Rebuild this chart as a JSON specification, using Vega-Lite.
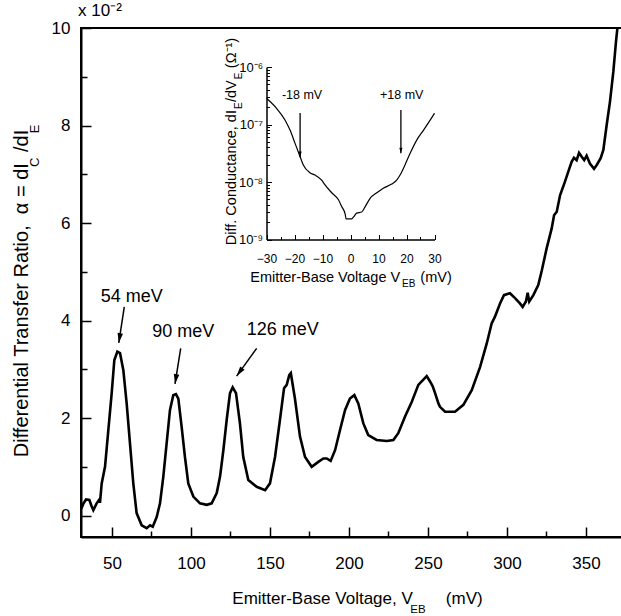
{
  "$schema": "https://vega.github.io/schema/vega-lite/v6.json",
  "width": 541,
  "height": 509,
  "autosize": {"type": "none"},
  "padding": {"left": 81, "top": 28, "right": 0, "bottom": 79},
  "background": "white",
  "title": {"text": "x 10⁻²", "anchor": "start", "frame": "group", "fontSize": 17, "font": "Liberation Sans", "fontWeight": "normal", "offset": -2, "dx": -3, "color": "black"},
  "config": {
    "view": {"stroke": "black", "strokeWidth": 2},
    "font": "Liberation Sans",
    "axis": {"domainColor": "black", "tickColor": "black", "labelColor": "black", "titleColor": "black", "labelFont": "Liberation Sans", "titleFont": "Liberation Sans", "titleFontWeight": "normal", "grid": false, "labelFlush": false, "labelOverlap": false},
    "text": {"font": "Liberation Sans", "color": "black"}
  },
  "datasets": {
    "main": [
      {"v": 30.6, "a": 0.14}, {"v": 32.0, "a": 0.25}, {"v": 33.6, "a": 0.33}, {"v": 35.7, "a": 0.32}, {"v": 37.0, "a": 0.2}, {"v": 38.2, "a": 0.11},
      {"v": 40.3, "a": 0.25}, {"v": 42.0, "a": 0.33}, {"v": 42.4, "a": 0.26}, {"v": 43.5, "a": 0.66}, {"v": 45.6, "a": 1.0}, {"v": 47.7, "a": 1.75},
      {"v": 49.8, "a": 2.5}, {"v": 51.5, "a": 3.19}, {"v": 53.4, "a": 3.36}, {"v": 55.1, "a": 3.33}, {"v": 57.2, "a": 2.98}, {"v": 59.3, "a": 2.3},
      {"v": 61.4, "a": 1.48}, {"v": 63.5, "a": 0.66}, {"v": 65.6, "a": 0.05}, {"v": 68.8, "a": -0.2}, {"v": 72.0, "a": -0.26}, {"v": 74.1, "a": -0.2},
      {"v": 75.8, "a": -0.23}, {"v": 78.3, "a": -0.03}, {"v": 80.4, "a": 0.25}, {"v": 82.5, "a": 0.8}, {"v": 84.6, "a": 1.48}, {"v": 86.7, "a": 2.16},
      {"v": 88.8, "a": 2.47}, {"v": 90.5, "a": 2.49}, {"v": 92.0, "a": 2.4}, {"v": 94.1, "a": 1.82}, {"v": 96.2, "a": 1.2}, {"v": 98.3, "a": 0.66},
      {"v": 101.5, "a": 0.39}, {"v": 105.7, "a": 0.25}, {"v": 110.0, "a": 0.22}, {"v": 113.1, "a": 0.25}, {"v": 116.3, "a": 0.46}, {"v": 118.4, "a": 0.8},
      {"v": 120.5, "a": 1.34}, {"v": 122.6, "a": 1.96}, {"v": 124.7, "a": 2.51}, {"v": 126.4, "a": 2.63}, {"v": 128.5, "a": 2.51}, {"v": 131.0, "a": 1.89},
      {"v": 133.1, "a": 1.2}, {"v": 136.3, "a": 0.73}, {"v": 141.6, "a": 0.59}, {"v": 146.9, "a": 0.52}, {"v": 150.0, "a": 0.66}, {"v": 153.2, "a": 1.2},
      {"v": 156.3, "a": 1.96}, {"v": 158.9, "a": 2.61}, {"v": 160.6, "a": 2.68}, {"v": 162.2, "a": 2.88}, {"v": 163.2, "a": 2.92}, {"v": 165.8, "a": 2.4},
      {"v": 169.0, "a": 1.62}, {"v": 172.2, "a": 1.2}, {"v": 176.4, "a": 1.0}, {"v": 180.6, "a": 1.1}, {"v": 183.8, "a": 1.17}, {"v": 185.9, "a": 1.17},
      {"v": 188.4, "a": 1.12}, {"v": 191.2, "a": 1.34}, {"v": 194.3, "a": 1.75}, {"v": 197.5, "a": 2.16}, {"v": 200.6, "a": 2.4}, {"v": 203.4, "a": 2.47},
      {"v": 205.9, "a": 2.3}, {"v": 209.1, "a": 1.89}, {"v": 212.2, "a": 1.65}, {"v": 217.5, "a": 1.55}, {"v": 223.9, "a": 1.53}, {"v": 228.1, "a": 1.55},
      {"v": 231.2, "a": 1.69}, {"v": 235.5, "a": 2.03}, {"v": 239.7, "a": 2.33}, {"v": 243.9, "a": 2.68}, {"v": 249.2, "a": 2.86}, {"v": 251.3, "a": 2.75},
      {"v": 253.0, "a": 2.65}, {"v": 254.5, "a": 2.51}, {"v": 256.6, "a": 2.3}, {"v": 257.6, "a": 2.23}, {"v": 260.8, "a": 2.13}, {"v": 267.1, "a": 2.13},
      {"v": 272.4, "a": 2.27}, {"v": 277.7, "a": 2.57}, {"v": 283.0, "a": 3.05}, {"v": 287.2, "a": 3.53}, {"v": 290.3, "a": 3.94}, {"v": 292.4, "a": 4.08},
      {"v": 295.6, "a": 4.35}, {"v": 298.1, "a": 4.52}, {"v": 301.9, "a": 4.56}, {"v": 305.1, "a": 4.46}, {"v": 308.2, "a": 4.35}, {"v": 309.9, "a": 4.28},
      {"v": 312.0, "a": 4.39}, {"v": 313.1, "a": 4.57}, {"v": 314.1, "a": 4.39}, {"v": 316.7, "a": 4.52}, {"v": 319.8, "a": 4.73}, {"v": 322.0, "a": 5.02},
      {"v": 325.1, "a": 5.48}, {"v": 328.3, "a": 5.89}, {"v": 329.8, "a": 6.16}, {"v": 331.5, "a": 6.23}, {"v": 333.6, "a": 6.57}, {"v": 336.7, "a": 6.85},
      {"v": 339.5, "a": 7.12}, {"v": 341.0, "a": 7.26}, {"v": 342.4, "a": 7.34}, {"v": 344.1, "a": 7.29}, {"v": 345.6, "a": 7.44}, {"v": 347.3, "a": 7.36},
      {"v": 348.9, "a": 7.29}, {"v": 350.4, "a": 7.38}, {"v": 352.5, "a": 7.22}, {"v": 355.1, "a": 7.11}, {"v": 356.8, "a": 7.19}, {"v": 359.3, "a": 7.33},
      {"v": 361.0, "a": 7.5}, {"v": 363.1, "a": 8.01}, {"v": 365.2, "a": 8.49}, {"v": 367.3, "a": 9.1}, {"v": 369.0, "a": 9.72}, {"v": 369.9, "a": 10.0},
      {"v": 370.3, "a": 10.2}
    ],
    "arrows": [
      {"id": "a54", "x": 57.8, "y": 4.28, "x2": 54.3, "y2": 3.54},
      {"id": "a90", "x": 93.5, "y": 3.43, "x2": 89.9, "y2": 2.7},
      {"id": "a126", "x": 141.6, "y": 3.43, "x2": 128.9, "y2": 2.86}
    ],
    "labels": [
      {"x": 62.5, "y": 4.49, "t": "54 meV"},
      {"x": 95.1, "y": 3.77, "t": "90 meV"},
      {"x": 158.1, "y": 3.8, "t": "126 meV"}
    ],
    "xsub": [{"x": 243.7, "y": -1.94, "t": "EB"}],
    "ysub": [{"x": 1.6, "y": 7.243, "t": "C"}, {"x": 1.6, "y": 7.928, "t": "E"}],
    "inset": [
      {"v": -30.0, "g": 2.86e-7}, {"v": -26.4, "g": 1.91e-7}, {"v": -23.4, "g": 1.2e-7}, {"v": -21.6, "g": 8.0e-8}, {"v": -19.8, "g": 4.7e-8},
      {"v": -18.0, "g": 2.75e-8}, {"v": -16.9, "g": 2.0e-8}, {"v": -14.5, "g": 1.45e-8}, {"v": -12.7, "g": 1.32e-8}, {"v": -10.3, "g": 1.08e-8},
      {"v": -9.1, "g": 8.9e-9}, {"v": -6.7, "g": 6.5e-9}, {"v": -4.3, "g": 4.9e-9}, {"v": -3.1, "g": 3.7e-9}, {"v": -1.9, "g": 2.77e-9},
      {"v": -1.6, "g": 2.28e-9}, {"v": 0.4, "g": 2.28e-9}, {"v": 1.2, "g": 2.5e-9}, {"v": 2.2, "g": 2.88e-9}, {"v": 4.0, "g": 3.0e-9},
      {"v": 5.2, "g": 3.7e-9}, {"v": 7.0, "g": 5.2e-9}, {"v": 9.4, "g": 6.5e-9}, {"v": 11.7, "g": 7.8e-9}, {"v": 14.7, "g": 9.2e-9},
      {"v": 16.5, "g": 1.08e-8}, {"v": 17.7, "g": 1.32e-8}, {"v": 19.5, "g": 2.0e-8}, {"v": 21.3, "g": 3.15e-8}, {"v": 23.7, "g": 5.4e-8},
      {"v": 26.1, "g": 8.0e-8}, {"v": 28.5, "g": 1.2e-7}, {"v": 30.0, "g": 1.57e-7}
    ],
    "insetArrows": [
      {"x": -18, "y": 1.58e-7, "y2": 2.7e-8},
      {"x": 18, "y": 1.79e-7, "y2": 3.15e-8}
    ],
    "insetLabels": [
      {"x": -17.3, "y": 3.26e-7, "t": "-18 mV"},
      {"x": 18.3, "y": 3.26e-7, "t": "+18 mV"}
    ],
    "insetXsub": [{"x": 20.8, "y": 1.68e-10, "t": "EB"}],
    "insetYsub": [{"x": -39.8, "y": 2.13e-7, "t": "E"}, {"x": -39.8, "y": 7.03e-7, "t": "E"}]
  },
  "layer": [
    {
      "layer": [
        {
          "data": {"name": "main"},
          "mark": {"type": "line", "color": "black", "strokeWidth": 2.6, "clip": true},
          "encoding": {
            "x": {"field": "v", "type": "quantitative", "scale": {"domain": [30.4, 372.8], "nice": false, "zero": false},
              "axis": {"orient": "bottom", "values": [50, 100, 150, 200, 250, 300, 350], "tickSize": -10, "tickWidth": 1.5, "domainWidth": 2, "labelFontSize": 17, "labelPadding": 28, "title": "Emitter-Base Voltage, V\u00a0\u00a0\u00a0\u00a0\u00a0\u00a0\u00a0(mV)", "titleFontSize": 17, "titleX": 276, "titleY": 61, "titleBaseline": "middle"}},
            "y": {"field": "a", "type": "quantitative", "scale": {"domain": [-0.44, 10], "nice": false, "zero": false},
              "axis": {"orient": "left", "values": [0, 2, 4, 6, 8, 10], "tickSize": -10, "tickWidth": 1.5, "domainWidth": 2, "labelFontSize": 17, "labelPadding": 21, "title": "Differential Transfer Ratio,\u00a0\u00a0α = dI\u00a0\u00a0/dI\u00a0\u00a0", "titleFontSize": 20, "titleX": -60, "titleY": 265, "titleBaseline": "middle", "titleAngle": 270}}
          }
        },
        {
          "data": {"name": "arrows"},
          "mark": {"type": "rule", "color": "black", "strokeWidth": 1.5},
          "encoding": {
            "x": {"field": "x", "type": "quantitative"}, "y": {"field": "y", "type": "quantitative"},
            "x2": {"field": "x2"}, "y2": {"field": "y2"}
          }
        },
        {
          "data": {"name": "arrows"},
          "transform": [{"filter": "datum.id !== 'a126'"}],
          "mark": {"type": "point", "shape": "M0,0L-0.45,1.6L0.45,1.6Z", "size": 150, "filled": true, "color": "black", "opacity": 1, "angle": 189},
          "encoding": {"x": {"field": "x2", "type": "quantitative"}, "y": {"field": "y2", "type": "quantitative"}}
        },
        {
          "data": {"name": "arrows"},
          "transform": [{"filter": "datum.id === 'a126'"}],
          "mark": {"type": "point", "shape": "M0,0L-0.45,1.6L0.45,1.6Z", "size": 150, "filled": true, "color": "black", "opacity": 1, "angle": 216},
          "encoding": {"x": {"field": "x2", "type": "quantitative"}, "y": {"field": "y2", "type": "quantitative"}}
        },
        {
          "data": {"name": "labels"},
          "mark": {"type": "text", "fontSize": 18, "baseline": "middle", "align": "center"},
          "encoding": {"x": {"field": "x", "type": "quantitative"}, "y": {"field": "y", "type": "quantitative"}, "text": {"field": "t"}}
        },
        {
          "data": {"name": "xsub"},
          "mark": {"type": "text", "fontSize": 11.5, "baseline": "middle", "align": "center"},
          "encoding": {"x": {"field": "x", "type": "quantitative"}, "y": {"field": "y", "type": "quantitative"}, "text": {"field": "t"}}
        },
        {
          "data": {"name": "ysub"},
          "mark": {"type": "text", "fontSize": 13, "baseline": "middle", "align": "center", "angle": 270},
          "encoding": {"x": {"field": "x", "type": "quantitative"}, "y": {"field": "y", "type": "quantitative"}, "text": {"field": "t"}}
        }
      ]
    },
    {
      "data": {"name": "main"},
      "mark": {"type": "line", "strokeOpacity": 0},
      "encoding": {
        "x": {"field": "v", "type": "quantitative", "scale": {"domain": [30.4, 372.8], "nice": false, "zero": false},
          "axis": {"orient": "bottom", "values": [75, 125, 175, 225, 275, 325], "tickSize": -6, "tickWidth": 1.5, "labels": false, "domain": false, "title": null}},
        "y": {"field": "a", "type": "quantitative", "scale": {"domain": [-0.44, 10], "nice": false, "zero": false},
          "axis": {"orient": "left", "values": [1, 3, 5, 7, 9], "tickSize": -6, "tickWidth": 1.5, "labels": false, "domain": false, "title": null}}
      }
    },
    {
      "layer": [
        {
          "mark": {"type": "rect", "fill": "white", "stroke": "black", "strokeWidth": 1.5},
          "encoding": {
            "x": {"datum": -30, "type": "quantitative", "scale": {"domain": [-30, 30], "range": [185.5, 353.5], "nice": false, "zero": false},
              "axis": {"orient": "bottom", "offset": -297.5, "values": [-30, -20, -10, 0, 10, 20, 30], "tickSize": -5, "tickWidth": 1, "domainWidth": 1.5, "labelFontSize": 12, "labelPadding": 19, "title": "Emitter-Base Voltage V\u00a0\u00a0\u00a0\u00a0\u00a0(mV)", "titleFontSize": 14.5, "titleX": 269.5, "titleY": 37.5, "titleBaseline": "middle"}},
            "x2": {"datum": 30},
            "y": {"datum": 1e-9, "type": "quantitative", "scale": {"type": "log", "domain": [1e-9, 1e-6], "range": [211.5, 39], "nice": false},
              "axis": {"orient": "left", "offset": -185.5, "values": [1e-9, 1e-8, 1e-7, 1e-6], "labelExpr": "datum.value < 5e-9 ? '10⁻⁹' : datum.value < 5e-8 ? '10⁻⁸' : datum.value < 5e-7 ? '10⁻⁷' : '10⁻⁶'", "tickSize": -5, "tickWidth": 1, "domainWidth": 1.5, "labelFontSize": 13, "labelPadding": 9, "title": "Diff. Conductance, dI\u00a0\u00a0/dV\u00a0\u00a0 (Ω⁻¹)", "titleFontSize": 14.5, "titleX": -35, "titleY": 113, "titleBaseline": "middle", "titleAngle": 270}},
            "y2": {"datum": 1e-6}
          }
        },
        {
          "data": {"name": "inset"},
          "mark": {"type": "line", "color": "black", "strokeWidth": 1.2, "interpolate": "monotone"},
          "encoding": {"x": {"field": "v", "type": "quantitative"}, "y": {"field": "g", "type": "quantitative"}}
        },
        {
          "data": {"name": "insetArrows"},
          "mark": {"type": "rule", "color": "black", "strokeWidth": 1.3},
          "encoding": {"x": {"field": "x", "type": "quantitative"}, "y": {"field": "y", "type": "quantitative"}, "y2": {"field": "y2"}}
        },
        {
          "data": {"name": "insetArrows"},
          "mark": {"type": "point", "shape": "M0,0L-0.45,1.6L0.45,1.6Z", "size": 50, "filled": true, "color": "black", "opacity": 1, "angle": 180},
          "encoding": {"x": {"field": "x", "type": "quantitative"}, "y": {"field": "y2", "type": "quantitative"}}
        },
        {
          "data": {"name": "insetLabels"},
          "mark": {"type": "text", "fontSize": 12.5, "baseline": "middle", "align": "center"},
          "encoding": {"x": {"field": "x", "type": "quantitative"}, "y": {"field": "y", "type": "quantitative"}, "text": {"field": "t"}}
        },
        {
          "data": {"name": "insetXsub"},
          "mark": {"type": "text", "fontSize": 10, "baseline": "middle", "align": "center"},
          "encoding": {"x": {"field": "x", "type": "quantitative"}, "y": {"field": "y", "type": "quantitative"}, "text": {"field": "t"}}
        },
        {
          "data": {"name": "insetYsub"},
          "mark": {"type": "text", "fontSize": 10, "baseline": "middle", "align": "center", "angle": 270},
          "encoding": {"x": {"field": "x", "type": "quantitative"}, "y": {"field": "y", "type": "quantitative"}, "text": {"field": "t"}}
        }
      ]
    },
    {
      "data": {"name": "inset"},
      "mark": {"type": "line", "strokeOpacity": 0},
      "encoding": {
        "x": {"field": "v", "type": "quantitative", "scale": {"domain": [-30, 30], "range": [185.5, 353.5], "nice": false, "zero": false},
          "axis": {"orient": "bottom", "offset": -297.5, "values": [-25, -15, -5, 5, 15, 25], "tickSize": -3, "tickWidth": 1, "labels": false, "domain": false, "title": null}},
        "y": {"field": "g", "type": "quantitative", "scale": {"type": "log", "domain": [1e-9, 1e-6], "range": [211.5, 39], "nice": false},
          "axis": {"orient": "left", "offset": -185.5, "values": [2e-9, 3e-9, 4e-9, 5e-9, 6e-9, 7e-9, 8e-9, 9e-9, 2e-8, 3e-8, 4e-8, 5e-8, 6e-8, 7e-8, 8e-8, 9e-8, 2e-7, 3e-7, 4e-7, 5e-7, 6e-7, 7e-7, 8e-7, 9e-7], "tickSize": -3, "tickWidth": 1, "labels": false, "domain": false, "title": null}}
      }
    }
  ],
  "resolve": {"scale": {"x": "independent", "y": "independent"}}
}
